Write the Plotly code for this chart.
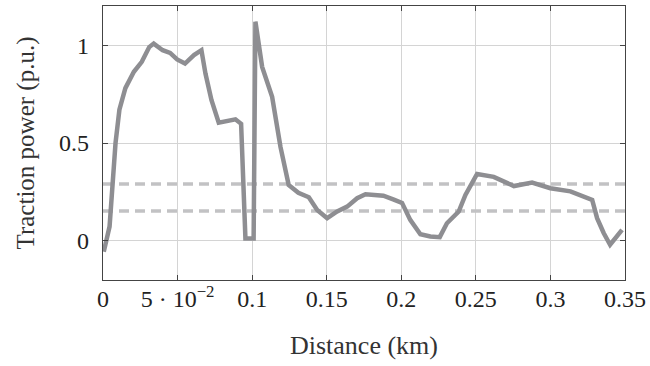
import plotly.graph_objects as go

distance_km = [0.0005, 0.0044, 0.0084, 0.011, 0.015, 0.0207, 0.026, 0.031, 0.034, 0.040, 0.045,
               0.0497, 0.055, 0.061, 0.066, 0.0687, 0.0727, 0.0776, 0.0888, 0.0926, 0.0955,
               0.101, 0.1022, 0.1067, 0.1134, 0.119, 0.1245, 0.131, 0.138, 0.1436, 0.1503,
               0.157, 0.1637, 0.1704, 0.176, 0.188, 0.195, 0.2005, 0.206, 0.2128, 0.2195,
               0.2258, 0.2306, 0.2385, 0.243, 0.2508, 0.262, 0.2755, 0.2877, 0.300, 0.3134,
               0.328, 0.3313, 0.3357, 0.340, 0.348]
traction_power = [-0.055, 0.073, 0.50, 0.67, 0.78, 0.864, 0.915, 0.99, 1.008, 0.974, 0.96,
                  0.927, 0.906, 0.949, 0.974, 0.855, 0.72, 0.604, 0.621, 0.598, 0.012,
                  0.012, 1.12, 0.889, 0.736, 0.48, 0.286, 0.246, 0.223, 0.158, 0.116,
                  0.15, 0.175, 0.218, 0.238, 0.231, 0.211, 0.194, 0.107, 0.034, 0.022,
                  0.019, 0.09, 0.15, 0.235, 0.342, 0.327, 0.28, 0.298, 0.269, 0.253,
                  0.209, 0.116, 0.04, -0.02, 0.056]

threshold_levels = [0.29, 0.153]
x_span = [0.0, 0.35]

x_tickvals = [0, 0.05, 0.1, 0.15, 0.2, 0.25, 0.3, 0.35]
x_ticktext = ["0", "5 · 10<sup>−2</sup>", "0.1", "0.15", "0.2", "0.25", "0.3", "0.35"]
y_tickvals = [0, 0.5, 1]
y_ticktext = ["0", "0.5", "1"]

FONT = "'Liberation Serif', 'DejaVu Serif', serif"

fig = go.Figure()
for lvl in threshold_levels:
    fig.add_trace(go.Scatter(x=x_span, y=[lvl, lvl], mode="lines",
                             line=dict(color="#c2c2c4", width=3.5, dash="10px,6px"),
                             showlegend=False, hoverinfo="skip"))
fig.add_trace(go.Scatter(x=distance_km, y=traction_power, mode="lines",
                         line=dict(color="#8e8e92", width=4.5),
                         showlegend=False))

axis_common = dict(showgrid=True, gridcolor="#d4d4d4", gridwidth=1.2,
                   showline=True, linecolor="#444444", linewidth=1.2, mirror="ticks",
                   ticks="inside", ticklen=5, tickcolor="#444444",
                   zeroline=False, automargin=False,
                   tickfont=dict(family=FONT, size=24, color="#222222"))

fig.update_layout(
    width=650, height=366,
    margin=dict(l=103, r=25, t=6, b=86),
    paper_bgcolor="white", plot_bgcolor="white",
    font=dict(family=FONT),
    xaxis=dict(range=[0, 0.35], tickvals=x_tickvals, ticktext=x_ticktext,
               title=dict(text="Distance (km)", font=dict(family=FONT, size=26, color="#333333"),
                          standoff=24),
               ticklabelstandoff=-3, **axis_common),
    yaxis=dict(range=[-0.2, 1.2], tickvals=y_tickvals, ticktext=y_ticktext,
               title=dict(text="Traction power (p.u.)", font=dict(family=FONT, size=25, color="#333333"),
                          standoff=17),
               ticklabelstandoff=8, **axis_common),
)

fig.write_html("out.html", config={"displayModeBar": False},
               post_script="document.body.style.margin='0';document.body.style.overflow='hidden';")
